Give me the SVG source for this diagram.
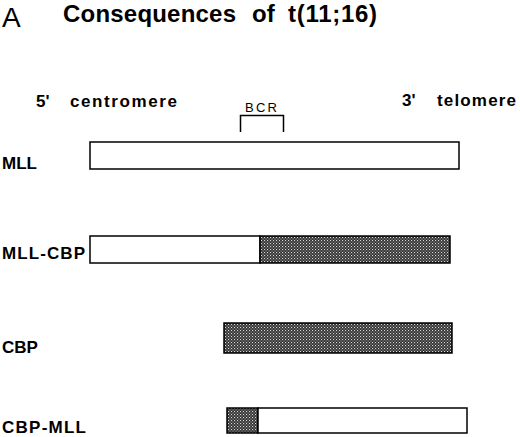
<svg xmlns="http://www.w3.org/2000/svg" width="520" height="437" viewBox="0 0 520 437">
<defs>
<pattern id="hatch" width="3" height="3" patternUnits="userSpaceOnUse">
<rect width="3" height="3" fill="#333"/>
<rect x="0" y="0" width="1.1" height="1.1" fill="#d8d8d8"/>
<rect x="1.5" y="1.5" width="1.1" height="1.1" fill="#a8a8a8"/>
</pattern>
</defs>
<style>
.lbl{font-family:"Liberation Sans",Arial,sans-serif;font-weight:bold;font-size:17px;fill:#000}
.hd{font-family:"Liberation Sans",Arial,sans-serif;font-weight:bold;font-size:17px;fill:#000}
.box{stroke:#000;stroke-width:1.5}
.white{fill:#fff}
.dark{fill:url(#hatch)}
</style>
<rect width="520" height="437" fill="#fff"/>
<text x="2" y="27" font-family="Liberation Sans,Arial,sans-serif" font-size="28" fill="#000">A</text>
<text font-family="Liberation Sans,Arial,sans-serif" font-weight="bold" font-size="24" fill="#000" y="22"><tspan x="63" textLength="173" lengthAdjust="spacing">Consequences</tspan><tspan x="252">of</tspan><tspan x="288" textLength="89" lengthAdjust="spacing">t(11;16)</tspan></text>
<g id="headings">
<text class="hd" x="36" y="107">5'</text>
<text class="hd" x="70" y="107" textLength="107" lengthAdjust="spacing">centromere</text>
<text class="hd" x="402" y="106">3'</text>
<text class="hd" x="437" y="106" textLength="79" lengthAdjust="spacing">telomere</text>
</g>
<g id="bcr">
<text x="245" y="112" font-family="Liberation Sans,Arial,sans-serif" font-size="13" fill="#000" textLength="32" lengthAdjust="spacing">BCR</text>
<path d="M240.5,132 V115.5 H283.5 V132" fill="none" stroke="#000" stroke-width="1.5"/>
</g>
<g id="connectors"></g>
<g id="mll">
<text class="lbl" x="2" y="169">MLL</text>
<rect class="box white" x="90" y="142" width="369" height="27"/>
</g>
<g id="mll-cbp">
<text class="lbl" x="2" y="259" textLength="83" lengthAdjust="spacing">MLL-CBP</text>
<rect class="box white" x="90" y="236" width="170" height="27"/>
<rect class="box dark" x="260" y="236" width="190" height="27"/>
</g>
<g id="cbp">
<text class="lbl" x="2" y="353">CBP</text>
<rect class="box dark" x="224" y="323" width="228" height="30"/>
</g>
<g id="cbp-mll">
<text class="lbl" x="2" y="433" textLength="84" lengthAdjust="spacing">CBP-MLL</text>
<rect class="box dark" x="227" y="408" width="31" height="25"/>
<rect class="box white" x="258" y="408" width="209" height="25"/>
</g>
</svg>
